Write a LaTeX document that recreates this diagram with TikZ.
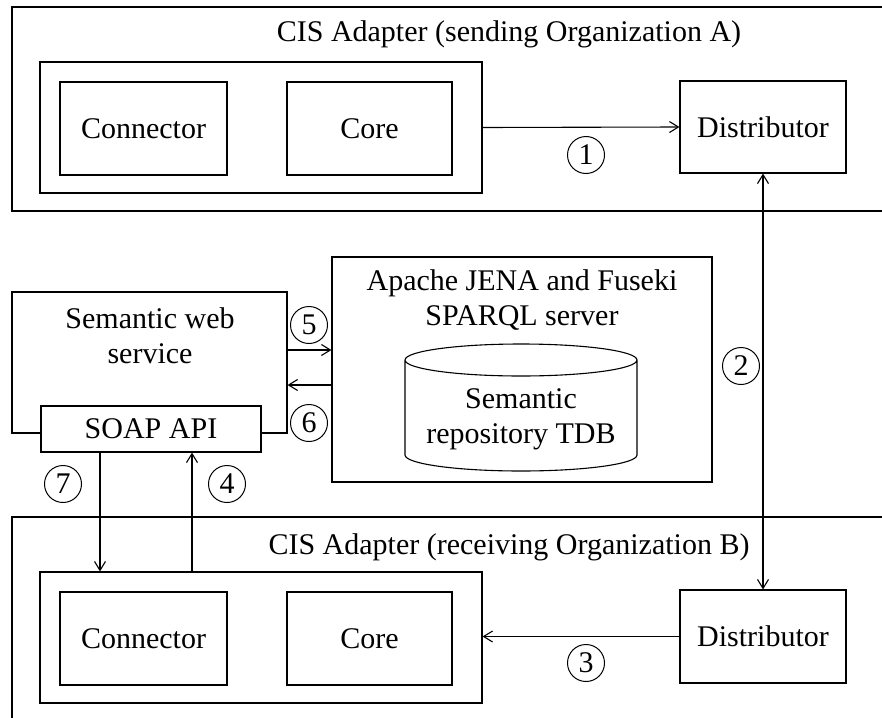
\documentclass[tikz,border=0pt]{standalone}
\usepackage{fontspec}
\setmainfont{Liberation Serif}
\usetikzlibrary{arrows.meta,shapes,positioning,calc}

\begin{document}
\begin{tikzpicture}[x=1pt, y=-1pt,
    box/.style={draw, line width=1.1pt, inner sep=0pt},
    num/.style={draw, circle, line width=1pt, minimum size=37pt, inner sep=0pt},
    arr/.style={-{Straight Barb[length=9pt,width=11pt]}, line width=1.1pt},
    darr/.style={{Straight Barb[length=9pt,width=11pt]}-{Straight Barb[length=9pt,width=11pt]}, line width=1.1pt},
    font=\fontsize{30}{35}\selectfont
]
    \clip (0,0) rectangle (882,717);

    % sending side
    \node[box, minimum width=888pt, minimum height=204pt] (adA) at (456,109) {};
    \node (titleA) at (509,34) {CIS Adapter (sending Organization A)};
    \node[box, minimum width=442pt, minimum height=131pt] (grpA) at (261,127.5) {};
    \node[box, minimum width=167pt, minimum height=93pt] (conA) at (143.5,128.5) {Connector};
    \node[box, minimum width=165pt, minimum height=93pt] (coreA) at (369.5,128.5) {Core};
    \node[box, minimum width=166pt, minimum height=92pt] (distA) at (763,127) {Distributor};

    % semantic web service
    \node[box, minimum width=275pt, minimum height=141pt] (sws) at (149.5,362.5) {};
    \node[align=center] (swsT) at (150,336) {Semantic web\\service};
    \node[box, fill=white, minimum width=220pt, minimum height=46pt] (soap) at (151,429) {SOAP API};

    % Jena / Fuseki
    \node[box, minimum width=380pt, minimum height=225pt] (apache) at (522,369.5) {};
    \node[align=center] (apacheT) at (522,300) {Apache JENA and Fuseki\\SPARQL server};
    \draw[line width=1.1pt] (405,360) -- (405,455)
        arc[start angle=180, end angle=360, x radius=116pt, y radius=16pt] -- (637,360)
        arc[start angle=0, end angle=360, x radius=116pt, y radius=16pt];
    \node[align=center] (repo) at (521,419) {Semantic\\repository TDB};

    % receiving side
    \node[box, minimum width=888pt, minimum height=230pt] (adB) at (456,632) {};
    \node (titleB) at (509,547) {CIS Adapter (receiving Organization B)};
    \node[box, minimum width=442pt, minimum height=131pt] (grpB) at (261,637.5) {};
    \node[box, minimum width=167pt, minimum height=93pt] (conB) at (143.5,638.5) {Connector};
    \node[box, minimum width=165pt, minimum height=93pt] (coreB) at (369.5,638.5) {Core};
    \node[box, minimum width=166pt, minimum height=93pt] (distB) at (763,636.5) {Distributor};

    % flows
    \draw[arr] (grpA.east) -- (distA.west);
    \draw[darr] (distA.south) -- (distB.north);
    \draw[arr] (distB.west) -- (distB.west -| grpB.east);
    \draw[arr] ([xshift=41pt]soap.south |- grpB.north) -- ([xshift=41pt]soap.south);
    \draw[arr] ([yshift=12.5pt]sws.east) -- ([yshift=12.5pt]sws.east -| apache.west);
    \draw[arr] ([yshift=-22.5pt]sws.east -| apache.west) -- ([yshift=-22.5pt]sws.east);
    \draw[arr] ([xshift=-51pt]soap.south) -- ([xshift=-51pt]soap.south |- grpB.north);

    \node[num] (n1) at (586,155) {1};
    \node[num] (n2) at (741,366) {2};
    \node[num] (n3) at (586,663) {3};
    \node[num] (n4) at (227,484) {4};
    \node[num] (n5) at (309,325) {5};
    \node[num] (n6) at (309,423) {6};
    \node[num] (n7) at (63,484) {7};
\end{tikzpicture}
\end{document}
